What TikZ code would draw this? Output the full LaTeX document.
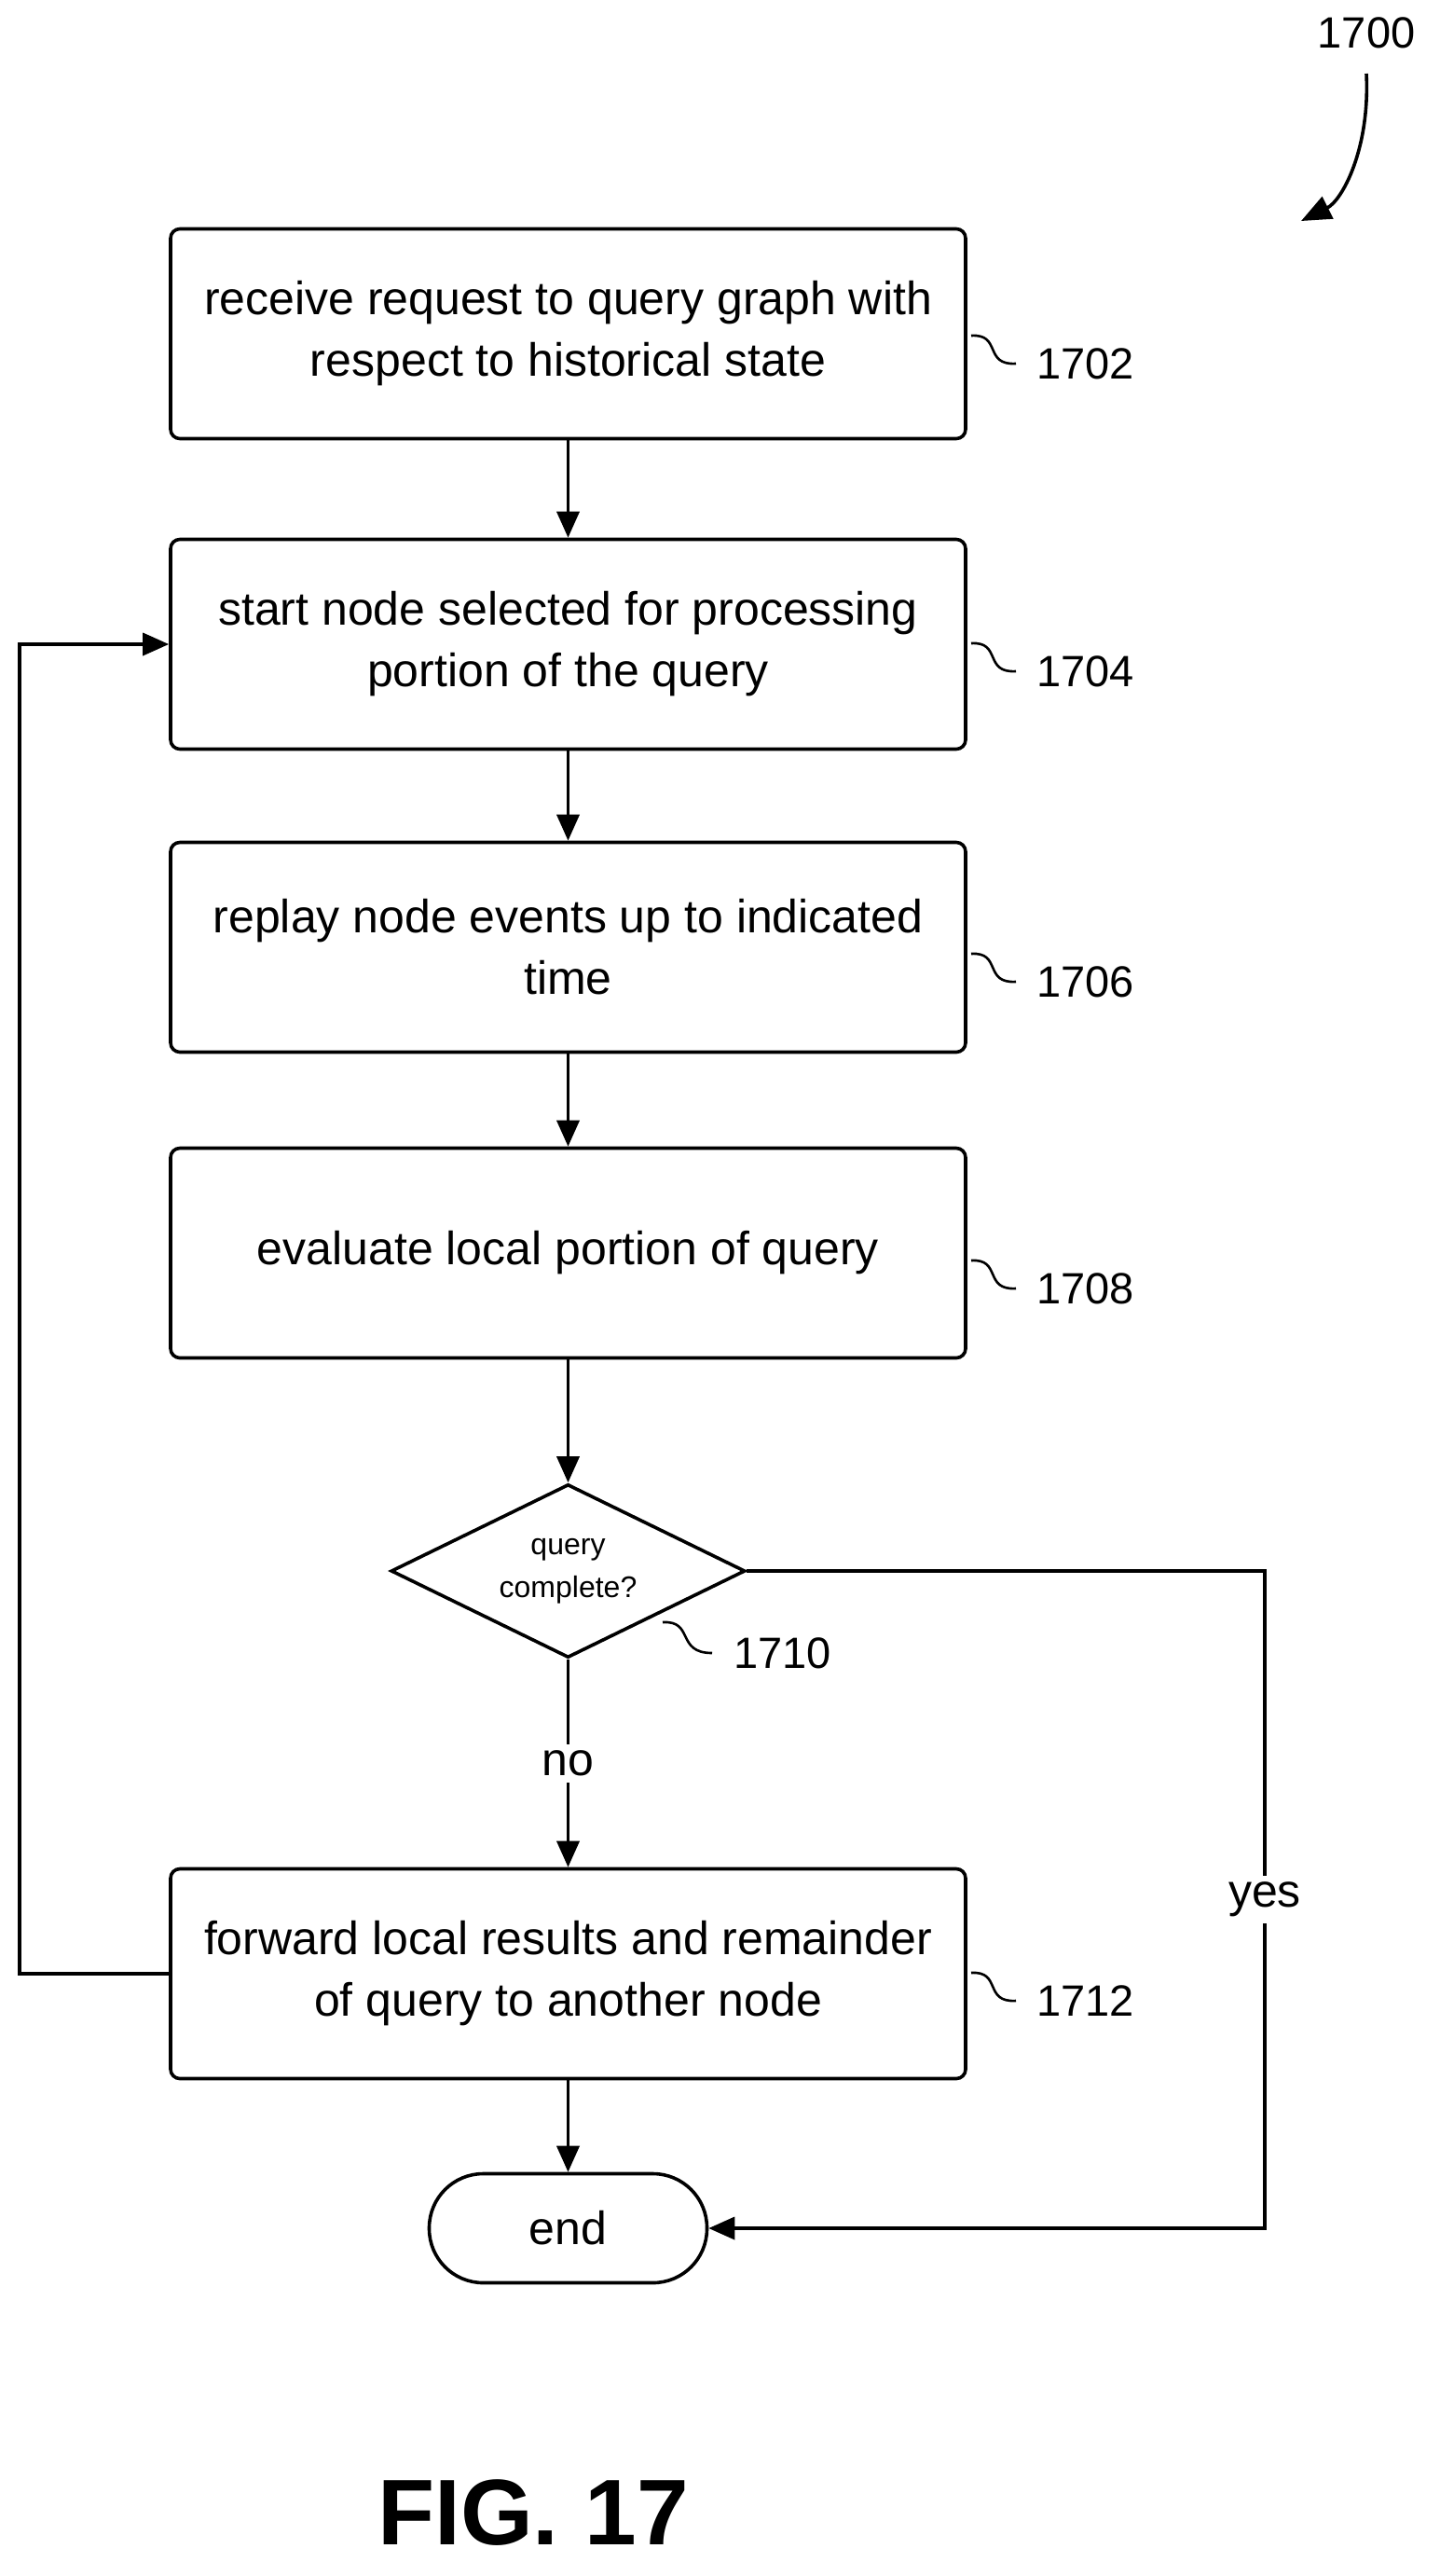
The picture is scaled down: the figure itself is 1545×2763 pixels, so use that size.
\documentclass[tikz,border=0pt]{standalone}
\usepackage{fontspec}
\setmainfont{Liberation Sans}
\usetikzlibrary{shapes.geometric,arrows.meta}
\begin{document}
\begin{tikzpicture}[x=0.5pt,y=-0.5pt,
  box/.style={draw,line width=1.8pt,rounded corners=5pt,minimum width=426.5pt,minimum height=112.5pt,align=center,font=\fontsize{25}{33}\selectfont},
  arr/.style={line width=1.8pt,-{Triangle[length=14pt,width=12pt]}},
  lab/.style={font=\fontsize{23.5}{28}\selectfont,anchor=west},
  sq/.style={line width=1.3pt}]
\useasboundingbox (0,0) rectangle (1545,2763);
\node[box] (b1) at (609.5,358) {receive request to query graph with\\respect to historical state};
\node[box] (b2) at (609.5,691) {start node selected for processing\\portion of the query};
\node[box] (b3) at (609.5,1016) {replay node events up to indicated\\time};
\node[box] (b4) at (609.5,1344) {evaluate local portion of query};
\node[draw,line width=1.8pt,diamond,aspect=2.05,minimum width=190pt,minimum height=93pt,inner sep=0pt,align=center,font=\fontsize{16}{23}\selectfont] (d) at (609.5,1685) {query\\complete?};
\node[box] (b5) at (609.5,2117) {forward local results and remainder\\of query to another node};
\node[draw,line width=1.8pt,rounded corners=29pt,minimum width=149pt,minimum height=58.5pt,font=\fontsize{25}{30}\selectfont] (e) at (609.5,2390) {end};
\draw[arr] (b1) -- (b2);
\draw[arr] (b2) -- (b3);
\draw[arr] (b3) -- (b4);
\draw[arr] (b4) -- (d);
\draw[arr] (d) -- node[fill=white,font=\fontsize{25}{30}\selectfont]{no} (b5);
\coordinate (l1) at (21,2117);
\coordinate (l2) at (21,691);
\draw[arr] (b5) -- (e);
\draw[arr] (b5.west) -- (l1) -- (l2) -- (b2.west);
\coordinate (y1) at (1357,1685);
\coordinate (y2) at (1357,2390);
\draw[arr] (d.east) -- (y1) -- node[fill=white,font=\fontsize{25}{30}\selectfont]{yes} (y2) -- (e.east);
\foreach \y/\t in {390/1702,720/1704,1053/1706,1382/1708,2146/1712}{
  \draw[sq] (1042,\y-30) .. controls (1075,\y-32) and (1055,\y+2) .. (1090,\y);
  \node[lab] at (1105,\y) {\t};
}
\draw[sq] (711,1740) .. controls (745,1738) and (725,1773) .. (764,1773);
\node[lab] at (780,1773) {1710};
\node[font=\fontsize{23.5}{28}\selectfont] (n1700) at (1466,35) {1700};
\coordinate (a1) at (1466,79);
\coordinate (a2) at (1396,237);
\draw[line width=1.8pt,-{Triangle[length=16pt,width=13pt]}] (a1) .. controls (1470,160) and (1440,215) .. (a2);
\node[font=\bfseries\fontsize{50}{56}\selectfont] (fig) at (572,2695) {FIG. 17};
\end{tikzpicture}
\end{document}
